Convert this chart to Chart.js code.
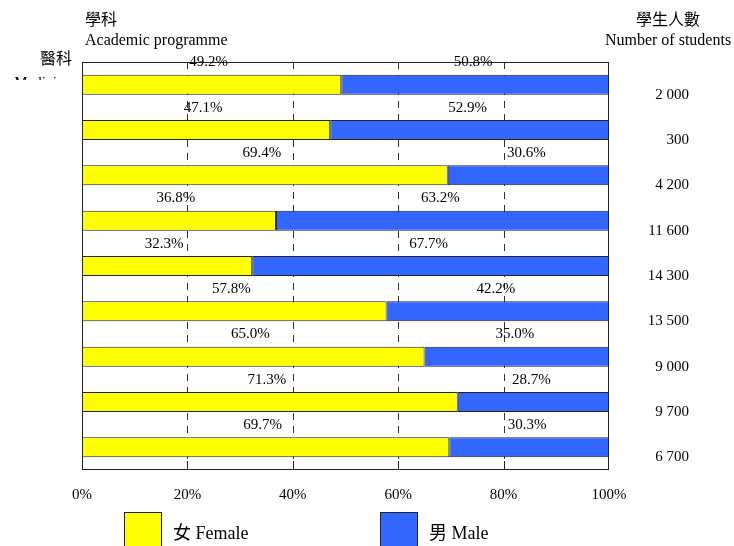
<!DOCTYPE html>
<html><head><meta charset="utf-8">
<script src="https://cdn.jsdelivr.net/npm/chart.js@4"></script>
<style>html,body{margin:0;padding:0;background:#fff;overflow:hidden;}#wrap{width:734px;height:560px;}</style>
</head><body><div id="wrap"><canvas id="c" width="734" height="560"></canvas></div>
<script>
// ---- data ----
const categories = ['醫科\nMedicine', '', '', '', '', '', '', '', ''];
const femaleShare = [49.2, 47.1, 69.4, 36.8, 32.3, 57.8, 65.0, 71.3, 69.7];
const maleShare   = [50.8, 52.9, 30.6, 63.2, 67.7, 42.2, 35.0, 28.7, 30.3];
const studentLabels = ['2 000', '300', '4 200', '11 600', '14 300', '13 500', '9 000', '9 700', '6 700'];
const xTickValues = [0, 20, 40, 60, 80, 100];
const seriesNames = ['女 Female', '男 Male'];
const seriesColors = ['#FFFF00', '#3366FF'];
const leftHeader = ['學科', 'Academic programme'];
const rightHeader = ['學生人數', 'Number of students'];

const SERIF = '"Liberation Serif", "Times New Roman", "Noto Sans CJK TC", serif';

const decor = {
  id: 'decor',
  beforeDatasetsDraw(chart) {
    const {ctx, chartArea: a, scales: {x}} = chart;
    ctx.save();
    ctx.strokeStyle = '#333'; ctx.lineWidth = 1; ctx.setLineDash([7, 6]);
    xTickValues.slice(1, -1).forEach(v => {
      const px = Math.round(x.getPixelForValue(v)) + 0.5;
      ctx.beginPath(); ctx.moveTo(px, a.top); ctx.lineTo(px, a.bottom); ctx.stroke();
    });
    ctx.restore();
  },
  afterDatasetsDraw(chart) {
    const {ctx, chartArea: a, scales: {x, y}} = chart;
    ctx.save();
    // frame
    ctx.strokeStyle = '#222'; ctx.lineWidth = 1;
    ctx.strokeRect(a.left + 0.5, a.top + 0.5, a.right - a.left - 1, a.bottom - a.top - 1);
    // inner ticks at the bottom
    xTickValues.slice(1, -1).forEach(v => {
      const px = Math.round(x.getPixelForValue(v)) + 0.5;
      ctx.beginPath(); ctx.moveTo(px, a.bottom); ctx.lineTo(px, a.bottom - 9); ctx.stroke();
    });
    // percentage labels above each bar
    const band = y.getPixelForValue(1) - y.getPixelForValue(0);
    ctx.fillStyle = '#000';
    ctx.font = '15px ' + SERIF;
    ctx.textAlign = 'center'; ctx.textBaseline = 'middle';
    categories.forEach((c, i) => {
      const yc = y.getPixelForValue(i) - band / 2 + 0.5;
      const f0 = x.getPixelForValue(0), f1 = x.getPixelForValue(femaleShare[i]);
      const m1 = x.getPixelForValue(femaleShare[i] + maleShare[i]);
      ctx.fillText(femaleShare[i].toFixed(1) + '%', (f0 + f1) / 2 - 3, yc);
      ctx.fillText(maleShare[i].toFixed(1) + '%', (f1 + m1) / 2 - 2, yc);
    });
    ctx.restore();
  },
  afterDraw(chart) {
    const {ctx, chartArea: a} = chart;
    ctx.save();
    ctx.fillStyle = '#000';
    ctx.font = '16px ' + SERIF;
    ctx.textBaseline = 'middle';
    // column headers
    ctx.textAlign = 'left';
    ctx.fillText(leftHeader[0], a.left + 3, 21);
    ctx.fillText(leftHeader[1], a.left + 3, 41);
    ctx.textAlign = 'center';
    ctx.fillText(rightHeader[0], a.right + 59, 21);
    ctx.fillText(rightHeader[1], a.right + 59, 41);
    // first category label (second line partly hidden as in the reference)
    const parts = categories[0].split('\n');
    ctx.textAlign = 'right';
    ctx.fillText(parts[0], a.left - 10, 60);
    ctx.save();
    ctx.beginPath(); ctx.rect(0, 0, a.left, 80); ctx.clip();
    ctx.font = '15px ' + SERIF;
    ctx.textBaseline = 'alphabetic';
    ctx.fillText(parts[1], a.left - 11, 87);
    ctx.restore();
    // legend
    const boxX = [a.left + 42, a.left + 298];
    chart.data.datasets.forEach((ds, i) => {
      const bx = boxX[i], by = 512;
      ctx.fillStyle = ds.backgroundColor;
      ctx.fillRect(bx, by, 38, 44);
      ctx.strokeStyle = '#222'; ctx.lineWidth = 1;
      ctx.strokeRect(bx + 0.5, by + 0.5, 37, 44);
      ctx.fillStyle = '#000';
      ctx.font = '18px ' + SERIF;
      ctx.textAlign = 'left'; ctx.textBaseline = 'middle';
      ctx.fillText(ds.label, bx + 49, 534);
    });
    ctx.restore();
  }
};

new Chart(document.getElementById('c'), {
  type: 'bar',
  data: {
    labels: categories,
    datasets: [
      {label: seriesNames[0], data: femaleShare, backgroundColor: seriesColors[0]},
      {label: seriesNames[1], data: maleShare, backgroundColor: seriesColors[1]}
    ]
  },
  options: {
    indexAxis: 'y',
    responsive: false,
    animation: false,
    devicePixelRatio: 1,
    layout: {padding: {top: 62, left: 82, right: 45, bottom: 50}},
    datasets: {bar: {categoryPercentage: 1, barPercentage: 0.44, borderColor: '#222', borderWidth: 1, borderSkipped: false}},
    plugins: {legend: {display: false}, tooltip: {enabled: false}},
    scales: {
      x: {
        stacked: true, min: 0, max: 100, position: 'bottom',
        afterBuildTicks(s) { s.ticks = xTickValues.map(v => ({value: v})); },
        ticks: {callback: v => v + '%', font: {family: SERIF, size: 15}, color: '#000', padding: 16, maxRotation: 0, autoSkip: false},
        grid: {display: false, drawTicks: false},
        border: {display: false},
        afterFit(s) { s.height = 40; }
      },
      y: {stacked: true, display: false, offset: true},
      y2: {
        type: 'category', labels: studentLabels, position: 'right', offset: true,
        grid: {display: false, drawTicks: false}, border: {display: false},
        ticks: {crossAlign: 'far', padding: 18, labelOffset: 10, font: {family: SERIF, size: 15}, color: '#000', autoSkip: false},
        afterFit(s) { s.width = 80; }
      }
    }
  },
  plugins: [decor]
});
</script>
</body></html>
